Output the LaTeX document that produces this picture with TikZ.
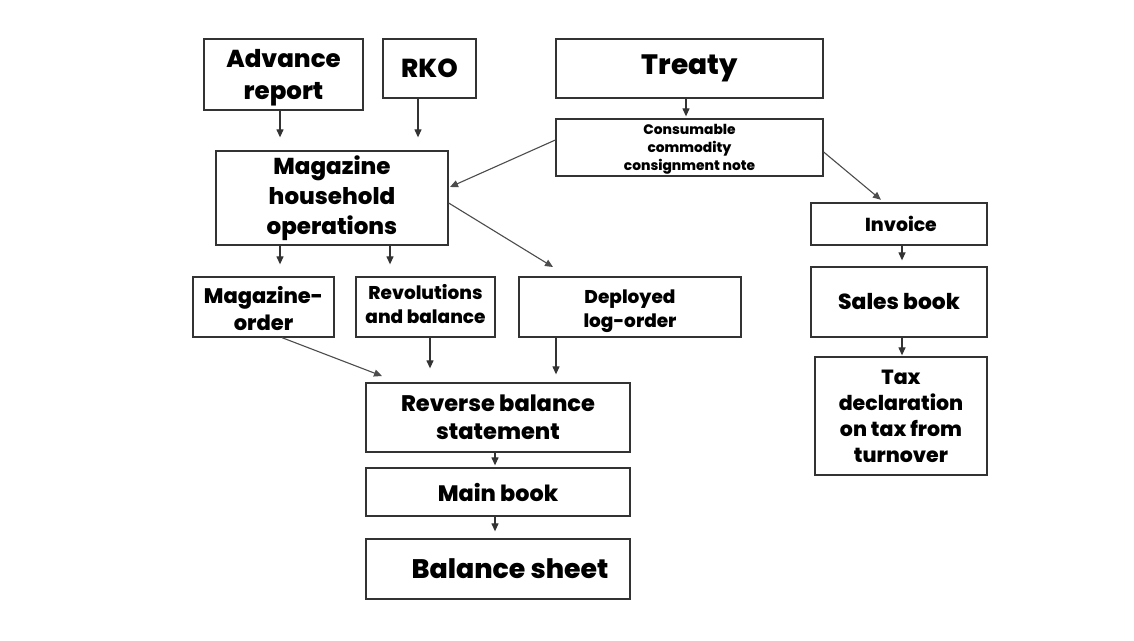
\documentclass[tikz,border=0pt]{standalone}
\usepackage{fontspec}
\setmainfont{Poppins}[BoldFont={Poppins ExtraBold}]
\usetikzlibrary{arrows.meta}
\newcommand{\fs}[2]{\fontsize{#1}{#2}\selectfont}
\newcommand{\lowertxt}[2]{\raisebox{-#1}[\height][\depth]{\begin{tabular}{@{}c@{}}#2\end{tabular}}}
\tikzset{
  box/.style={draw=black!80, line width=1.3pt, fill=white, align=center, inner sep=0pt},
  fnt/.style 2 args={font=\bfseries\fs{#1}{#2}},
  arr/.style={draw=black!80, line width=1.2pt, -{Triangle[length=8pt,width=7pt]}},
  ln/.style={draw=black!70, line width=1.1pt, -{Triangle[length=8pt,width=7pt]}},
}
\begin{document}
\begin{tikzpicture}[x=1pt,y=-1pt]
\useasboundingbox[fill=white] (0,0) rectangle (1134,640);
% boxes (pixel coords, y down)
\node[box, fnt={24.5}{32}, minimum width=159, minimum height=71] (adv) at (283.5,74.5) {\lowertxt{3pt}{Advance\\report}};
\node[box, fnt={26}{30}, minimum width=93, minimum height=59] (rko) at (429.5,68.5) {RKO};
\node[box, fnt={28}{30}, minimum width=267, minimum height=59] (tre) at (689.5,68.5) {\raisebox{5pt}{Treaty}};
\node[box, fnt={13.8}{18}, minimum width=267, minimum height=57] (con) at (689.5,147.5) {\lowertxt{1.5pt}{Consumable\\commodity\\consignment note}};
\node[box, fnt={23}{30}, minimum width=232, minimum height=94] (mho) at (332,198) {Magazine\\household\\operations};
\node[box, fnt={21}{27}, minimum width=141, minimum height=60] (mor) at (263.5,307) {\lowertxt{5pt}{Magazine-\\order}};
\node[box, fnt={18.5}{24}, minimum width=139, minimum height=60] (rev) at (425.5,307) {\raisebox{3pt}{\begin{tabular}{@{}c@{}}Revolutions\\and balance\end{tabular}}};
\node[box, fnt={18.5}{24}, minimum width=222, minimum height=60] (dep) at (630,307) {\lowertxt{4pt}{Deployed\\log-order}};
\node[box, fnt={22.5}{28}, minimum width=264, minimum height=69] (rbs) at (498,417.5) {Reverse balance\\statement};
\node[box, fnt={22.3}{24}, minimum width=264, minimum height=48] (mb) at (498,492) {Main book};
\node[box, fnt={26.8}{28}, minimum width=264, minimum height=60] (bs) at (498,569) {\hspace*{24pt}Balance sheet};
\node[box, fnt={18.8}{20}, minimum width=176, minimum height=42] (inv) at (899,224) {\hspace*{4pt}Invoice};
\node[box, fnt={21.8}{24}, minimum width=176, minimum height=70] (sb) at (899,302) {Sales book};
\node[box, fnt={20.5}{26}, minimum width=172, minimum height=118] (tax) at (901,416) {Tax\\declaration\\on tax from\\turnover};
% connectors
\draw[arr, shorten >=13pt] (adv.south -| 280,0) -- (mho.north -| 280,0);
\draw[arr, shorten >=13pt] (rko.south -| 418,0) -- (mho.north -| 418,0);
\draw[arr, shorten >=2pt] (tre.south -| 686,0) -- (con.north -| 686,0);
\draw[ln] (con.west |- 0,140) -- (450,187) coordinate (c1);
\draw[ln, shorten >=4pt] (con.east |- 0,152) -- (inv.north -| 884,0);
\draw[arr, shorten >=12pt] (mho.south -| 280,0) -- (mor.north -| 280,0);
\draw[arr, shorten >=12pt] (mho.south -| 390,0) -- (rev.north -| 390,0);
\draw[ln] (mho.east |- 0,203) -- (553,267) coordinate (c2);
\draw[ln] (mor.south -| 282,0) -- (382,376) coordinate (c3);
\draw[arr, shorten >=14pt] (rev.south -| 430,0) -- (rbs.north -| 430,0);
\draw[arr, shorten >=8pt] (dep.south -| 556,0) -- (rbs.north -| 556,0);
\draw[arr, shorten >=2pt] (rbs.south -| 495,0) -- (mb.north -| 495,0);
\draw[arr, shorten >=7pt] (mb.south -| 495,0) -- (bs.north -| 495,0);
\draw[arr, shorten >=6pt] (inv.south -| 902,0) -- (sb.north -| 902,0);
\draw[arr, shorten >=1pt] (sb.south -| 902,0) -- (tax.north -| 902,0);
\end{tikzpicture}
\end{document}
